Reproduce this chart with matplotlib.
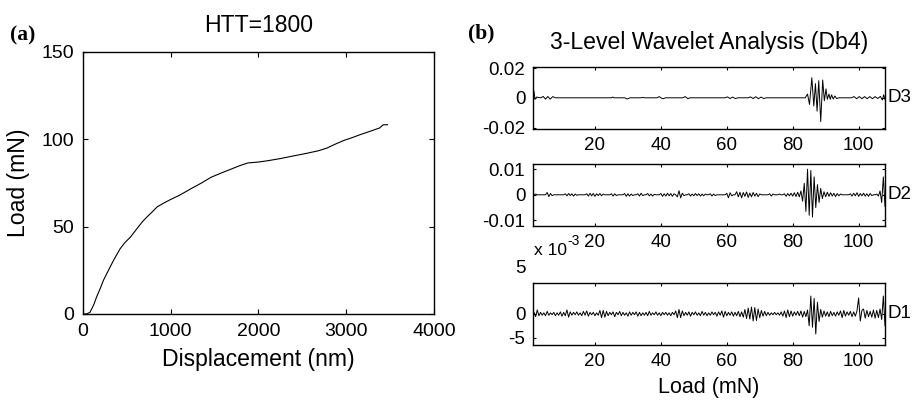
import numpy as np
import matplotlib
matplotlib.use("Agg")
import matplotlib.pyplot as plt

plt.rcParams['font.family'] = ['Liberation Sans', 'DejaVu Sans']

# (a) load-displacement curve, HTT=1800
displacement = [0, 40, 80, 120, 157, 200, 234, 290, 349, 425, 480, 540, 617, 680, 732,
                790, 847, 920, 1000, 1100, 1230, 1350, 1460, 1580, 1690, 1790, 1881,
                2000, 2111, 2250, 2418, 2550, 2686, 2780, 2877, 2970, 3069, 3160, 3260,
                3380, 3420, 3471]
load = [0, 0, 1, 5, 10, 15, 19.4, 25, 30.8, 37.5, 41, 44, 49, 53, 55.7,
        58.5, 61.4, 63.5, 65.6, 68, 71.7, 75, 78.3, 80.8, 83, 85, 86.5,
        87, 87.8, 89, 90.7, 92, 93.5, 95, 97.3, 99.3, 101, 102.7, 104.4,
        106.5, 108.3, 108.4]

# (b) wavelet details, D3 as knots (load in mN, coefficient in 1e-3)
d3_load = [1.2, 1.5, 1.8, 2.3, 3.5, 4.3, 5.0, 5.7, 6.4, 7.2, 8.0,
           25.0, 25.4, 25.8, 29.0, 29.8, 30.6, 34.0, 34.5, 35.0,
           38.8, 39.5, 40.2, 40.8, 41.4, 46.6, 47.4, 48.2, 48.8,
           59.4, 60.2, 61.0, 61.8, 62.6, 63.4, 66.4, 67.2, 68.0, 68.8, 69.6, 70.4, 71.2, 72.0,
           83.8, 84.5, 85.1, 85.8, 86.4, 86.9, 87.4, 87.9, 88.5, 89.1, 89.6, 90.1, 90.5,
           91.0, 91.4, 91.8, 92.3, 92.8, 93.3, 94.0,
           97.8, 98.6, 99.4, 100.2, 101.0, 101.8, 102.6, 103.4, 104.2, 105.0, 105.8,
           106.6, 107.2, 107.6, 108.0]
d3_coef = [0, 4.5, -1.0, 0.5, 0, 0.9, -0.9, 0.9, -0.9, 0.8, 0,
           0, 0.5, 0, 0, -0.8, 0, 0, 0.3, 0,
           0, 0.8, -0.3, -0.6, 0, 0, 0.8, -0.6, 0,
           0, 0.6, -0.5, 0.5, -0.5, 0, 0, 0.6, -0.5, 0.7, -0.6, 0.5, -0.5, 0,
           0, 2.5, -4.5, 13.5, -5.5, 9.5, -9.0, 11.5, -16.0, 12.0, -2.0, 6.0, -1.0,
           2.5, -1.0, 2.0, -0.8, 1.2, -0.5, 0,
           0, 0.8, -0.6, 0.8, -0.6, 0.8, -0.6, 0.8, -0.6, 0.8, -0.5,
           0.9, -1.5, 2.0, -1.0]

# D2 and D1 sampled every 0.5 mN from 1.5 to 108 mN (coefficient in 1e-3)
load_start, load_step = 1.5, 0.5
d2_coef = [
    0, 0.3, 0, 0, 0, 0, 0, 0, 0.9, -0.7, 0.5, -0.3, 0, 0, 0, 0, 0, 0, 0, 0.4,
    -0.4, 0.5, -0.3, 0.4, -0.5, 0.3, -0.2, 0, 0, 0, 0, 0, 0.4, -0.5, 0.6, -0.4, 0.5, -0.6, 0.4, -0.3,
    0.5, -0.4, 0.3, 0, 0, 0, 0, 0.4, -0.5, 0.4, -0.3, 0, 0, 0, 0, 0.5, -0.6, 0.4, -0.5, 0.3,
    -0.3, 0, 0, 0.4, -0.5, 0.6, -0.3, 0, 0, 0.5, -0.4, 0.3, -0.5, 0.2, 0, 0, 0, 0.5, -0.6, 0.4,
    -0.5, 0.6, -0.4, 0.5, -0.6, 0.4, 0, -0.8, 1.6, -1.2, 0.6, -0.3, 0, 0, 0.4, -0.5, 0.3, -0.4, 0.5, -0.3,
    0.4, -0.5, 0.3, -0.4, 0.3, 0, 0, 0.4, -0.5, 0.3, -0.3, 0, 0, 0, 0, 0, 0, 0.6, -1.2, 0.8,
    -0.4, 0, 0, 1.2, -0.8, 1.0, -1.2, 0.9, -0.6, 1.1, -1.0, 0.7, -0.8, 0.9, -0.5, 0.6, -0.7, 0.3, 0, 0,
    0, 0, 0, 0.4, -0.5, 0.3, 0, 0, 0, 0.3, 0, 0, 0.4, -0.6, 0.5, -0.4, 0.6, -0.5, 0.8, -0.7,
    1.0, -0.8, 1.5, -2.5, 4.5, -6.5, 10.0, -8.0, 9.5, -8.7, 7.0, -5.0, 4.0, -3.0, 2.5, -1.5, 1.2, -0.8, 1.0, -0.6,
    0.8, -0.5, 0.6, -0.7, 0.5, -0.4, 0.3, 0, 0, 0, 0, 0, 0.4, -0.5, 0.6, -0.4, 0.8, -0.6, 0.5, -0.4,
    0.6, -0.5, 0.4, -0.6, 0.5, -0.3, 0, 0, 0.3, -0.5, 1.5, -3.0, 7.0, -4.5]
d1_coef = [
    0.3, -0.6, 0.8, -0.4, 0.3, -0.3, 0.2, -0.4, 0.5, -0.3, 0.2, -0.2, 0.3, -0.4, 0.2, -0.3, 0.4, -0.5, 0.3, -0.4,
    0.8, -0.7, 0.4, -0.3, 0.3, -0.2, 0.4, -0.3, 0.2, -0.4, 0.5, -0.3, 0.6, -0.5, 0.3, -0.2, 0.3, -0.4, 0.2, -0.3,
    0.7, -0.8, 0.7, -0.7, 0.5, -0.4, 0.3, -0.2, 0.4, -0.6, 0.3, -0.2, 0.5, -0.4, 0.3, -0.3, 0.2, -0.5, 0.4, -0.3,
    0.3, -0.2, 0.4, -0.5, 0.3, -0.4, 0.2, -0.3, 0.3, -0.4, 0.5, -0.3, 0.2, -0.2, 0.4, -0.3, 0.2, -0.4, 0.3, -0.2,
    0.3, -0.3, 0.2, -0.4, 0.3, -0.2, 0.6, -0.8, 0.9, -0.8, 0.6, -0.4, 0.3, -0.3, 0.4, -0.5, 0.3, -0.2, 0.4, -0.3,
    0.2, -0.4, 0.5, -0.3, 0.3, -0.4, 0.2, -0.3, 0.4, -0.2, 0.3, -0.5, 0.4, -0.3, 0.6, -0.7, 0.5, -0.4, 0.3, -0.3,
    0.4, -0.5, 0.3, -0.4, 0.5, -0.6, 0.4, -0.7, 0.9, -1.0, 1.2, -1.1, 1.4, -1.5, 1.3, -1.4, 1.0, -0.8, 0.7, -0.5,
    0.5, -0.4, 0.3, -0.3, 0.2, -0.2, 0.3, -0.2, 0.2, -0.3, 0.4, -0.5, 0.6, -0.8, 0.8, -0.6, 0.6, -0.5, 0.4, -0.3,
    0.5, -0.4, 0.6, -0.7, 0.5, -0.6, 0.8, -2.5, 3.7, -2.8, 3.2, -4.2, 2.4, -1.6, 0.9, -0.7, 0.6, -0.5, 0.4, -0.6,
    0.5, -0.4, 0.3, -0.5, 0.4, -0.3, 0.6, -0.8, 0.7, -0.5, 0.4, -0.3, 0.5, -0.6, 0.4, -0.5, 0.6, 3.3, -1.5, 0.7,
    1.0, -0.9, 0.7, -0.6, 0.5, -0.7, 0.8, -0.9, 0.7, -0.8, 1.0, -1.2, 3.7, -2.5]

details = [("D3", d3_load, d3_coef, 0.021, [-0.02, 0, 0.02], ['-0.02', '0', '0.02']),
           ("D2", None, d2_coef, 0.0122, [-0.01, 0, 0.01], ['-0.01', '0', '0.01']),
           ("D1", None, d1_coef, 0.0065, [-0.005, 0], ['-5', '0'])]
xticks_b = [20, 40, 60, 80, 100]

fig = plt.figure(figsize=(9.15, 4.0), dpi=100)

# panel (a)
ax = fig.add_axes([0.0907, 0.215, 0.3836, 0.655])
ax.plot(displacement, load, color='black', lw=0.8)
ax.set_xlim(0, 4000)
ax.set_ylim(0, 150)
ax.set_xticks([0, 1000, 2000, 3000, 4000])
ax.set_yticks([0, 50, 100, 150])
ax.tick_params(direction='in', top=True, right=True, length=3.5, width=0.8,
               labelsize=14, pad=6.5)
ax.set_xlabel("Displacement (nm)", fontsize=16.6)
ax.set_ylabel("Load (mN)", fontsize=16.6)
ax.xaxis.set_label_coords(0.5, -0.13)
ax.yaxis.set_label_coords(-0.15, 0.5)
for s in ax.spines.values():
    s.set_linewidth(1.0)
fig.text(0.2825, 0.935, "HTT=1800", ha='center', va='center', fontsize=16.6)
fig.text(0.011, 0.9125, "(a)", ha='left', va='center', fontsize=15.5,
         fontweight='bold', family='Liberation Serif')

# panel (b)
bottoms = [0.6775, 0.435, 0.1375]
for (name, xs, ys, lim, yt, ytl), b in zip(details, bottoms):
    axd = fig.add_axes([0.5825, b, 0.3847, 0.156])
    if xs is None:
        xs = load_start + load_step * np.arange(len(ys))
    axd.plot(xs, np.array(ys) * 1e-3, color='black', lw=0.7)
    axd.set_xlim(1.2, 108)
    axd.set_ylim(-lim, lim)
    axd.set_xticks(xticks_b)
    axd.set_yticks(yt)
    axd.set_yticklabels(ytl)
    axd.tick_params(direction='in', top=True, right=True, length=2.5, width=0.8,
                    labelsize=13.5)
    axd.tick_params(axis='x', pad=5.5)
    axd.tick_params(axis='y', pad=5.5)
    for s in axd.spines.values():
        s.set_linewidth(1.0)
    axd.text(1.008, 0.5, name, transform=axd.transAxes, ha='left', va='center',
             fontsize=13.5)
    last = axd

last.set_xlabel("Load (mN)", fontsize=15.5)
last.xaxis.set_label_coords(0.5, -0.52)
fig.text(0.575, 0.329, "5", ha='right', va='center', fontsize=13.5)
fig.text(0.5836, 0.3625, "x 10", ha='left', va='baseline', fontsize=12.5)
fig.text(0.6205, 0.388, "-3", ha='left', va='baseline', fontsize=10)
fig.text(0.7745, 0.895, "3-Level Wavelet Analysis (Db4)", ha='center', va='center', fontsize=16.6)
fig.text(0.511, 0.917, "(b)", ha='left', va='center', fontsize=15.5,
         fontweight='bold', family='Liberation Serif')

fig.savefig("out.png", dpi=100)
